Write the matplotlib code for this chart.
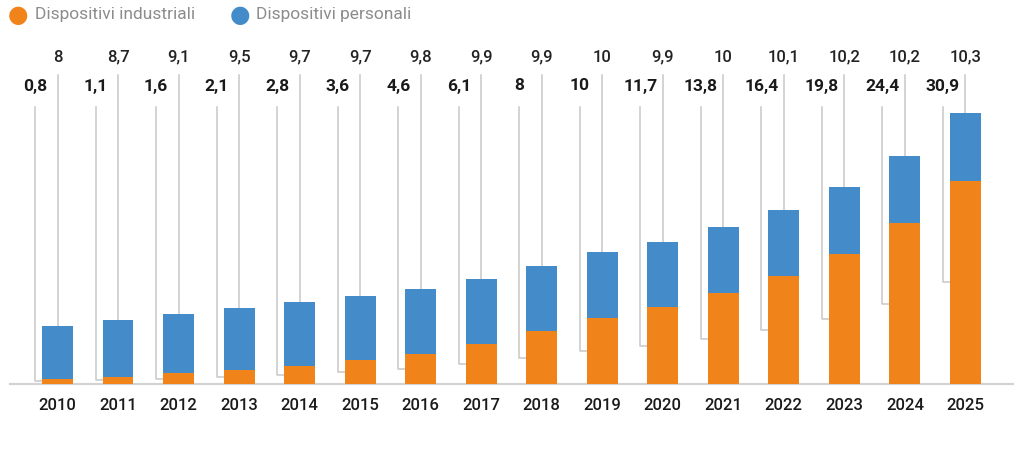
import matplotlib
matplotlib.use("Agg")
import matplotlib.pyplot as plt

years = ["2010", "2011", "2012", "2013", "2014", "2015", "2016", "2017",
         "2018", "2019", "2020", "2021", "2022", "2023", "2024", "2025"]
industriali = [0.8, 1.1, 1.6, 2.1, 2.8, 3.6, 4.6, 6.1, 8, 10, 11.7, 13.8, 16.4, 19.8, 24.4, 30.9]
personali = [8, 8.7, 9.1, 9.5, 9.7, 9.7, 9.8, 9.9, 9.9, 10, 9.9, 10, 10.1, 10.2, 10.2, 10.3]
series_names = ["Dispositivi industriali", "Dispositivi personali"]

ORANGE = "#F08319"
BLUE = "#448BC9"
LEAD = "#C8C8C8"
FONT = ["Roboto", "DejaVu Sans"]

def fmt(v):
    return ("%g" % v).replace(".", ",")

W, H = 1014, 455
fig = plt.figure(figsize=(W / 100, H / 100), dpi=100)
ax = fig.add_axes([0, 0, 1, 1])
ax.set_axis_off()

# pixel mapping
x0_px, step_px = 57.5, 60.53
base_px, scale_px = 384, 6.58
ax.set_xlim(-x0_px / step_px, (W - x0_px) / step_px)
ax.set_ylim(-(H - base_px) / scale_px, base_px / scale_px)

x = list(range(len(years)))
bw = 0.51
ax.bar(x, industriali, width=bw, color=ORANGE, zorder=3)
ax.bar(x, personali, width=bw, bottom=industriali, color=BLUE, zorder=3)

# baseline
ax.plot([(9 - x0_px) / step_px, (W - x0_px) / step_px], [0, 0], color="#D3D3D3", lw=1.6, zorder=2,
        solid_capstyle="butt")

def ypx(p):
    return (base_px - p) / scale_px

off = 7 / step_px + bw / 2
for i, (a, b) in enumerate(zip(industriali, personali)):
    ax.text(i, ypx(57), fmt(b), ha="center", va="center", fontsize=12, fontweight="medium",
            color="#222222", family=FONT)
    ax.plot([i, i], [ypx(75), a + b], color=LEAD, lw=1.1, zorder=1)
    xl = i - off
    ax.text(xl, ypx(86), fmt(a), ha="center", va="center", fontsize=12.5, fontweight="bold",
            color="#1a1a1a", family=FONT)
    ym = a / 2
    ax.plot([xl, xl, i - bw / 2], [ypx(107), ym, ym], color=LEAD, lw=1.1, zorder=1)
    ax.text(i, ypx(405), years[i], ha="center", va="center", fontsize=12, fontweight="medium",
            color="#1a1a1a", family=FONT)

# legend
fig.text(18 / W, 1 - 15 / H, "\u25CF", color=ORANGE, fontsize=17, ha="center", va="center",
         family=["DejaVu Sans"])
fig.text(35 / W, 1 - 15 / H, series_names[0], color="#8C8C8C", fontsize=12.5, ha="left",
         va="center", family=FONT)
fig.text(240 / W, 1 - 15 / H, "\u25CF", color=BLUE, fontsize=17, ha="center", va="center",
         family=["DejaVu Sans"])
fig.text(256 / W, 1 - 15 / H, series_names[1], color="#8C8C8C", fontsize=12.5, ha="left",
         va="center", family=FONT)

fig.savefig("out.png", dpi=100)
